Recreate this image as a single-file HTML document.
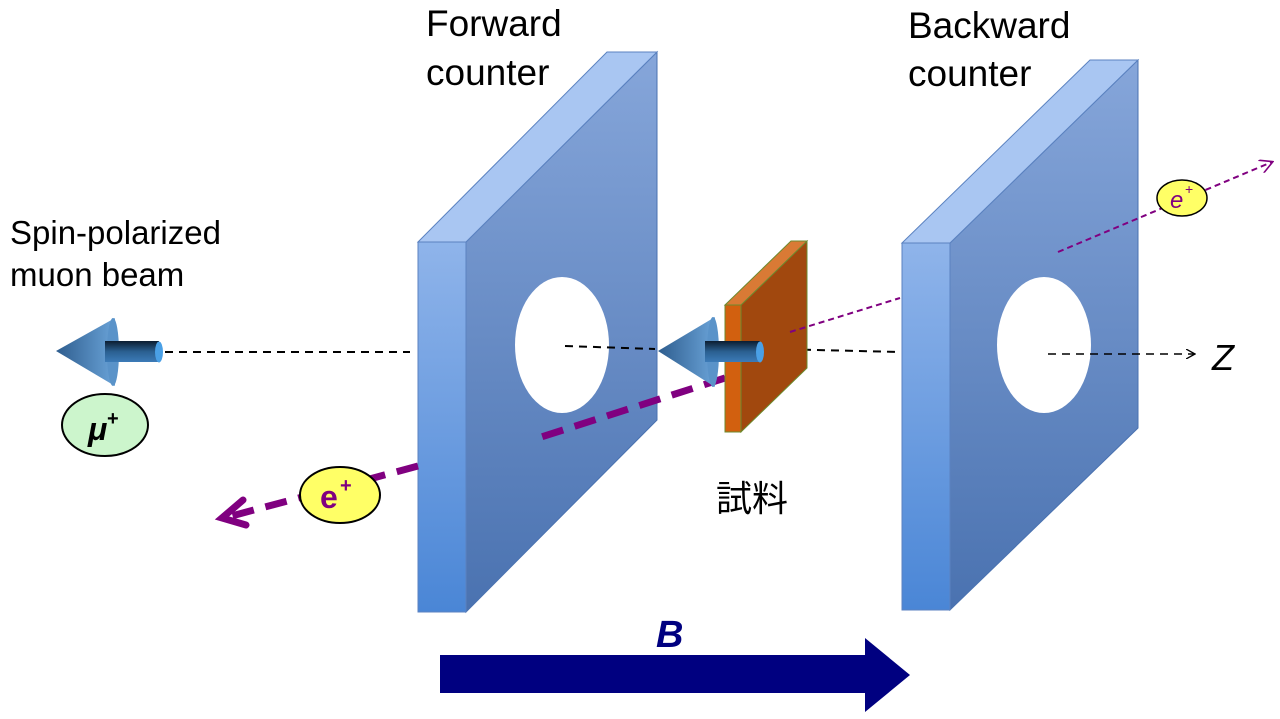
<!DOCTYPE html>
<html><head><meta charset="utf-8"><style>
html,body{margin:0;padding:0;background:#fff;}
svg{display:block;}
text{font-family:"Liberation Sans","Noto Sans CJK JP",sans-serif;}
</style></head><body>
<svg width="1280" height="719" viewBox="0 0 1280 719" xmlns="http://www.w3.org/2000/svg">
<defs>
<linearGradient id="face" x1="0" y1="0" x2="0" y2="1"><stop offset="0" stop-color="#86a6da"/><stop offset="1" stop-color="#4a72b0"/></linearGradient>
<linearGradient id="side" x1="0" y1="0" x2="0" y2="1"><stop offset="0" stop-color="#8fb4ea"/><stop offset="1" stop-color="#4a86d6"/></linearGradient>
<linearGradient id="cone" x1="0" y1="0" x2="1" y2="0"><stop offset="0" stop-color="#2e5d8e"/><stop offset="1" stop-color="#6aa3d8"/></linearGradient>
<linearGradient id="cyl" x1="0" y1="0" x2="0" y2="1"><stop offset="0" stop-color="#0c1d30"/><stop offset="0.5" stop-color="#2a5f90"/><stop offset="1" stop-color="#3c7bb8"/></linearGradient>
<marker id="ah" markerWidth="10" markerHeight="10" refX="8" refY="5" orient="auto" markerUnits="userSpaceOnUse"><path d="M0,0 L9,5 L0,10" fill="none" stroke="#000" stroke-width="1.3"/></marker>
<marker id="ahp" markerWidth="14" markerHeight="14" refX="12" refY="7" orient="auto" markerUnits="userSpaceOnUse"><path d="M0,0 L13,7 L0,14" fill="none" stroke="#800080" stroke-width="1.6"/></marker>
</defs>

<polygon points="466,242 657,52 657,420 466,612" fill="url(#face)" stroke="#4a72b0"/>
<polygon points="418,242 607,52 657,52 466,242" fill="#a9c6f2" stroke="#5b82c0"/>
<rect x="418" y="242" width="48" height="370" fill="url(#side)" stroke="#5b82c0"/>
<ellipse cx="562" cy="345" rx="47" ry="68" fill="#fff"/>

<polygon points="950,243 1138,60 1138,428 950,610" fill="url(#face)" stroke="#4a72b0"/>
<polygon points="902,243 1090,60 1138,60 950,243" fill="#a9c6f2" stroke="#5b82c0"/>
<rect x="902" y="243" width="48" height="367" fill="url(#side)" stroke="#5b82c0"/>
<ellipse cx="1044" cy="345" rx="47" ry="68" fill="#fff"/>

<line x1="165" y1="352" x2="410" y2="352" stroke="#000" stroke-width="2" stroke-dasharray="8,6"/>
<line x1="565" y1="346" x2="655" y2="349" stroke="#000" stroke-width="2" stroke-dasharray="8,6"/>
<line x1="775" y1="349" x2="900" y2="352" stroke="#000" stroke-width="2" stroke-dasharray="8,6"/>
<line x1="1048" y1="354" x2="1194" y2="354" stroke="#000" stroke-width="1.5" stroke-dasharray="8,6" marker-end="url(#ah)"/>
<text x="1212" y="370" font-size="36" font-style="italic">Z</text>

<line x1="725" y1="378" x2="532" y2="440" stroke="#800080" stroke-width="7" stroke-dasharray="22,12"/>
<line x1="418" y1="466" x2="224" y2="518" stroke="#800080" stroke-width="7" stroke-dasharray="22,12"/>
<path d="M243,500 L222,518 L246,525" fill="none" stroke="#800080" stroke-width="7" stroke-linecap="round"/>

<polygon points="741,305 807,241 807,368 741,432" fill="#a1480e" stroke="#6c8a2e"/>
<polygon points="725,305 791,241 807,241 741,305" fill="#d97a35" stroke="#6c8a2e"/>
<rect x="725" y="305" width="16" height="127" fill="#d2600f" stroke="#6c8a2e"/>

<line x1="790" y1="332" x2="900" y2="298" stroke="#800080" stroke-width="2" stroke-dasharray="6,4"/>
<line x1="1058" y1="252" x2="1272" y2="162" stroke="#800080" stroke-width="2" stroke-dasharray="6,4" marker-end="url(#ahp)"/>

<polygon points="56,351 115,318 115,386" fill="url(#cone)"/>
<ellipse cx="113" cy="352" rx="6" ry="34" fill="#5a93c9"/>
<rect x="105" y="341" width="54" height="21" fill="url(#cyl)"/>
<ellipse cx="159" cy="352" rx="4" ry="10.5" fill="#4aa0e6"/>
<polygon points="658,351 715,317 715,387" fill="url(#cone)"/>
<ellipse cx="713" cy="352" rx="6" ry="35" fill="#5a93c9"/>
<rect x="705" y="341" width="55" height="21" fill="url(#cyl)"/>
<ellipse cx="760" cy="352" rx="4" ry="10.5" fill="#4aa0e6"/>

<ellipse cx="105" cy="425" rx="43" ry="31" fill="#ccf5cc" stroke="#000" stroke-width="2"/>
<text x="88" y="440" font-size="32" font-weight="bold" font-style="italic">μ</text>
<text x="107" y="425" font-size="20" font-weight="bold">+</text>
<ellipse cx="340" cy="495" rx="40" ry="28" fill="#ffff66" stroke="#000" stroke-width="2"/>
<text x="320" y="508" font-size="32" font-weight="bold" fill="#800080">e</text>
<text x="340" y="492" font-size="20" font-weight="bold" fill="#800080">+</text>
<ellipse cx="1182" cy="198" rx="25" ry="18" fill="#ffff66" stroke="#000" stroke-width="1.5"/>
<text x="1170" y="208" font-size="24" font-style="italic" fill="#800080">e</text>
<text x="1185" y="194" font-size="14" fill="#800080">+</text>

<text x="426" y="36" font-size="37">Forward</text>
<text x="426" y="85" font-size="37">counter</text>
<text x="908" y="38" font-size="37">Backward</text>
<text x="908" y="86" font-size="37">counter</text>
<text x="10" y="244" font-size="33">Spin-polarized</text>
<text x="10" y="286" font-size="33">muon beam</text>
<text x="716" y="511" font-size="36">試料</text>

<polygon points="440,655 865,655 865,638 910,675 865,712 865,693 440,693" fill="#000080"/>
<text x="656" y="647" font-size="38" font-weight="bold" font-style="italic" fill="#000080">B</text>
</svg>
</body></html>
